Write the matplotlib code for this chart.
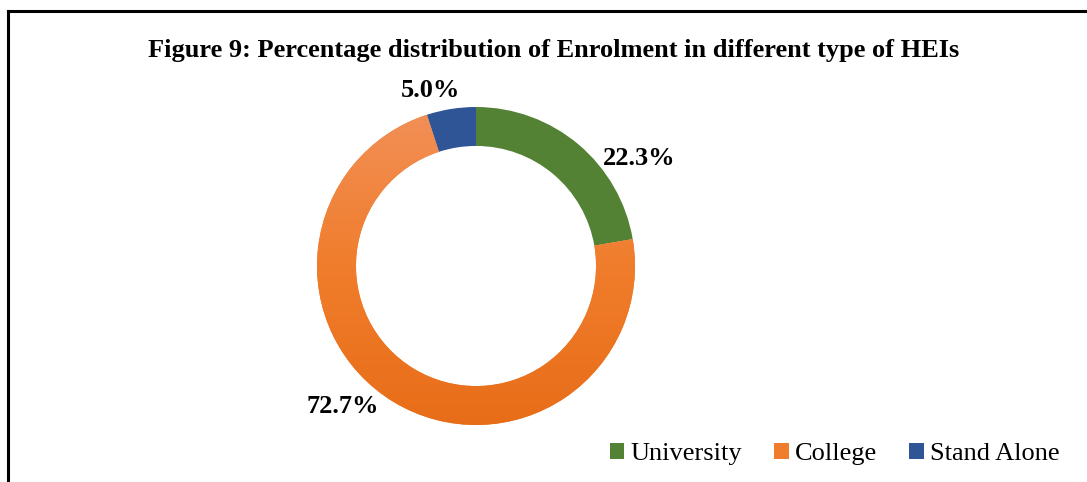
import numpy as np
import matplotlib
matplotlib.use("Agg")
import matplotlib.pyplot as plt
from matplotlib.patches import Patch
from matplotlib.colors import LinearSegmentedColormap

# data
categories = ["University", "College", "Stand Alone"]
shares = [22.3, 72.7, 5.0]
labels = ["22.3%", "72.7%", "5.0%"]
colors = ["#548235", "#ED7D31", "#2F5597"]

plt.rcParams["font.family"] = ["Liberation Serif", "DejaVu Serif"]

fig = plt.figure(figsize=(10.87, 4.82), dpi=100)

# border lines on top and left (as in the clipped screenshot)
fig.add_artist(plt.Line2D([8 / 1087, 1], [1 - 11 / 482, 1 - 11 / 482], color="black", lw=2.2))
fig.add_artist(plt.Line2D([8 / 1087, 8 / 1087], [0, 1 - 11 / 482], color="black", lw=2.2))

cx, cy, r = 476, 266, 159
ax = fig.add_axes([(cx - r) / 1087, (482 - cy - r) / 482, 2 * r / 1087, 2 * r / 482])

wedges, _ = ax.pie(shares, colors=colors, startangle=90, counterclock=False,
                   radius=1, wedgeprops=dict(width=0.245, linewidth=0))
ax.set_xlim(-1, 1)
ax.set_ylim(-1, 1)
ax.set_aspect("equal")
ax.axis("off")

# vertical gradient on the College slice
grad = LinearSegmentedColormap.from_list("g", ["#E86D18", "#F07D2C", "#F29058"])
img = ax.imshow(np.linspace(0, 1, 256).reshape(-1, 1), extent=[-1, 1, -1, 1],
                origin="lower", cmap=grad, aspect="auto", zorder=wedges[1].get_zorder() + 0.1)
img.set_clip_path(wedges[1])

# data labels (polar: radius, angle)
label_pos = [(1.23, 33.4), (1.22, 226.5), (1.14, 104.7)]
for lab, (rr, ang) in zip(labels, label_pos):
    ax.text(rr * np.cos(np.radians(ang)), rr * np.sin(np.radians(ang)), lab,
            ha="center", va="center", fontsize=19, fontweight="bold", clip_on=False)

fig.text(554 / 1087, 1 - 51 / 482, "Figure 9: Percentage distribution of Enrolment in different type of HEIs",
         ha="center", va="center", fontsize=19, fontweight="bold")

handles = [Patch(facecolor=c, edgecolor="none") for c in colors]
handles[1] = Patch(facecolor="#F07D2C", edgecolor="none")
fig.legend(handles, categories, loc="center right", bbox_to_anchor=(1060 / 1087, 1 - 454 / 482),
           ncol=3, frameon=False, fontsize=19, handlelength=0.55, handleheight=0.55,
           handletextpad=0.25, columnspacing=1.2, borderaxespad=0, borderpad=0)

fig.savefig("out.png", dpi=100)
